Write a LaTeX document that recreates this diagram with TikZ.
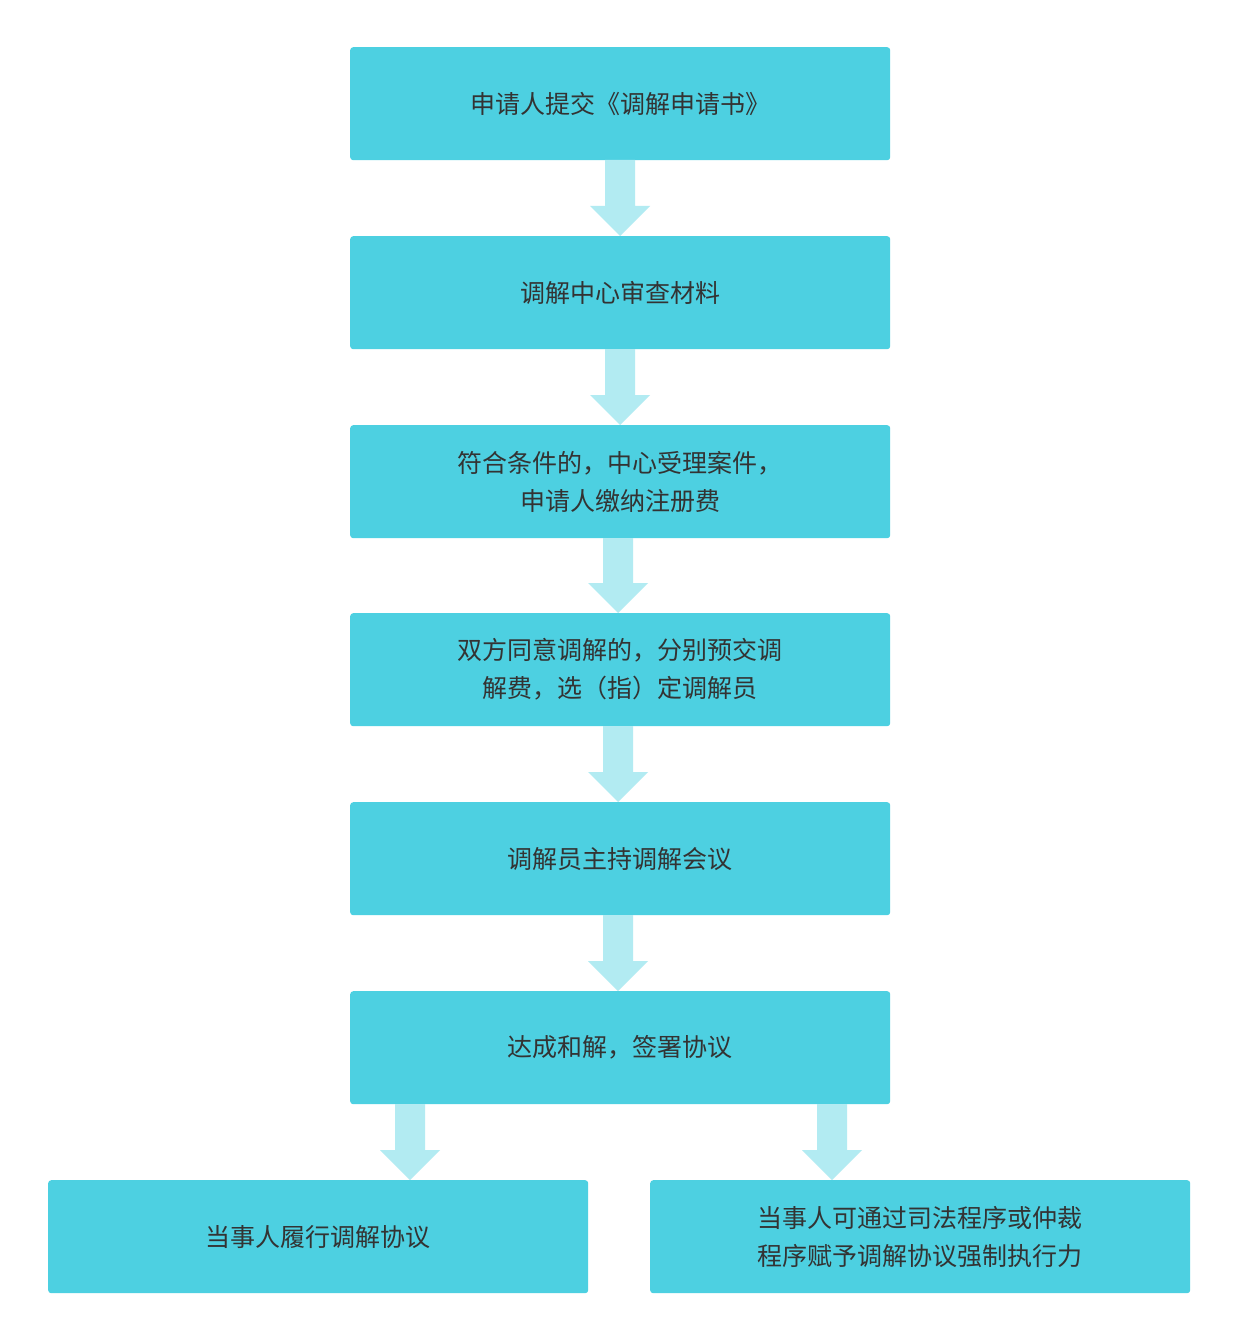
\documentclass[tikz,border=0pt]{standalone}
\usepackage{fontspec}
\newfontfamily\cjk{Noto Sans CJK SC}
\definecolor{boxc}{HTML}{4DD0E1}
\definecolor{arrc}{HTML}{B2EBF2}
\definecolor{txt}{HTML}{333333}
\begin{document}
\begin{tikzpicture}[x=1pt,y=-1pt,
  stepbox/.style={fill=boxc,rounded corners=3pt,minimum width=540pt,minimum height=113pt,inner sep=0pt,
    font=\cjk\fontsize{25}{38}\selectfont,text=txt,align=center,anchor=north west},
  barrow/.style={fill=arrc}]
\useasboundingbox (0,0) rectangle (1239,1340);
\fill[white] (0,0) rectangle (1239,1340);
\node[stepbox] (b1) at (350,47) {申请人提交《调解申请书》};
\node[stepbox] (b2) at (350,236) {调解中心审查材料};
\node[stepbox] (b3) at (350,425) {符合条件的，中心受理案件，\\申请人缴纳注册费};
\node[stepbox] (b4) at (350,613) {双方同意调解的，分别预交调\\解费，选（指）定调解员};
\node[stepbox] (b5) at (350,802) {调解员主持调解会议};
\node[stepbox] (b6) at (350,991) {达成和解，签署协议};
\node[stepbox] (b7) at (48,1180) {当事人履行调解协议};
\node[stepbox] (b8) at (650,1180) {当事人可通过司法程序或仲裁\\程序赋予调解协议强制执行力};
\newcommand{\blockarrow}[3]{% x, ytop, ybottom
  \fill[barrow] (#1-15,#2) -- (#1+15,#2) -- (#1+15,#3-30) -- (#1+30,#3-30) -- (#1,#3) -- (#1-30,#3-30) -- (#1-15,#3-30) -- cycle;}
\blockarrow{620}{160}{236}
\blockarrow{620}{349}{425}
\blockarrow{618}{538}{613}
\blockarrow{618}{726}{802}
\blockarrow{618}{915}{991}
\blockarrow{410}{1104}{1180}
\blockarrow{832}{1104}{1180}
\end{tikzpicture}
\end{document}
